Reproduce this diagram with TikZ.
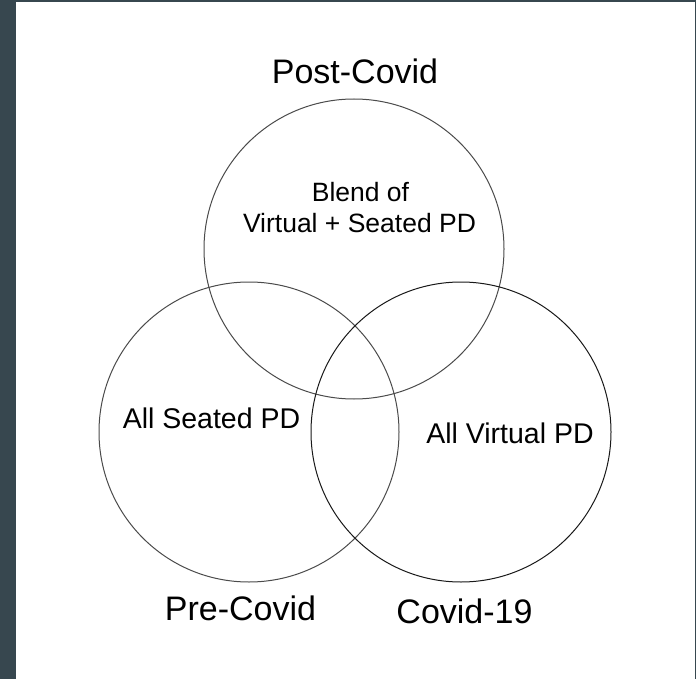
\documentclass[tikz,border=0pt]{standalone}
\usepackage{fontspec}
\setmainfont{Liberation Sans}
\usetikzlibrary{positioning}

\definecolor{slate}{RGB}{55,71,79}
\definecolor{ringgray}{RGB}{75,75,75}

\tikzset{
  ring/.style={circle,draw=ringgray,line width=1pt,minimum size=300pt,inner sep=0pt},
  era/.style={anchor=base,font=\fontsize{34}{38}\selectfont},
  inside/.style={anchor=base,font=\fontsize{28.5}{32}\selectfont},
}

\begin{document}
\begin{tikzpicture}[x=1pt,y=-1pt]

\useasboundingbox (0,0) rectangle (696,679);
\fill[slate] (0,0) rectangle (696,679);
\fill[white] (16,2) rectangle (695,679);

\node[ring](postc) at (354,249){};
\node[ring](prec) at (249,432){};
\node[ring,draw=black!90](covc) at (461,432){};

\node[era](postl) at (355,84){Post-Covid};
\node[era](prel) at (240.5,620){Pre-Covid};
\node[era](covl) at (464.5,623){Covid-19};

\node[anchor=base,font=\fontsize{26.5}{30}\selectfont](blend) at (360.5,202){Blend of};
\node[anchor=base,font=\fontsize{26.5}{30}\selectfont](mix) at (359.5,233){Virtual + Seated PD};
\node[inside](seated) at (211.5,428){All Seated PD};
\node[inside](virtual) at (510,443){All Virtual PD};

\end{tikzpicture}
\end{document}
